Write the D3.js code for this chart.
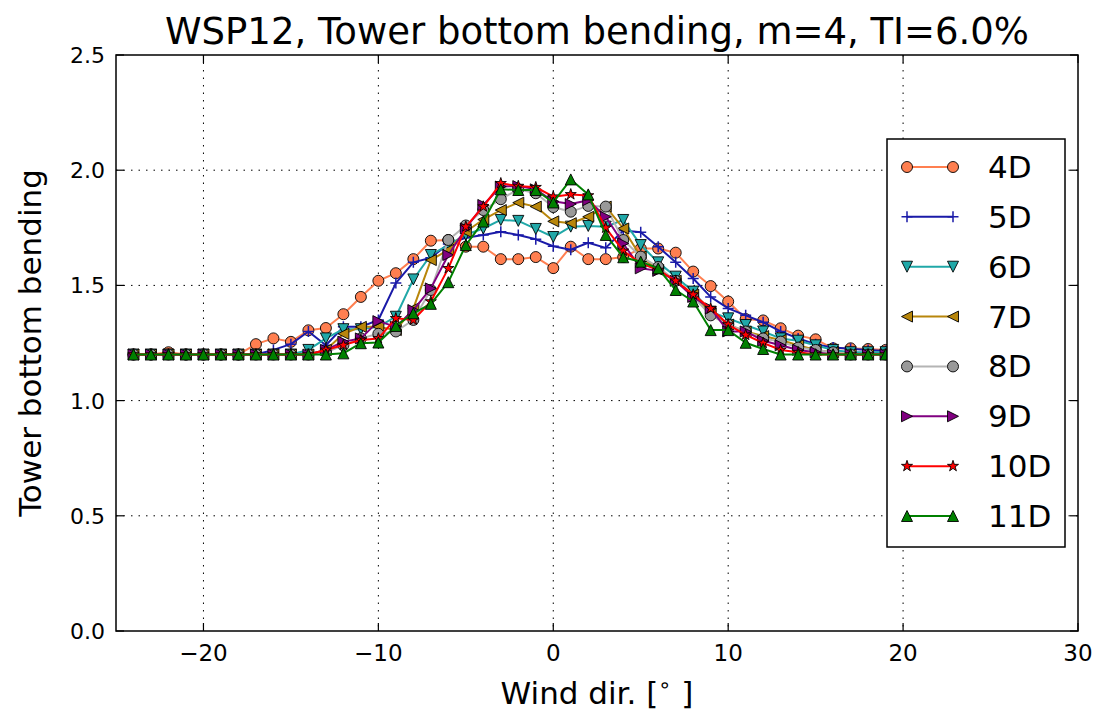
<!DOCTYPE html>
<html><head><meta charset="utf-8">
<script src="https://cdn.jsdelivr.net/npm/d3@7"></script>
<style>body{margin:0;background:#fff}svg{display:block}text{font-family:"DejaVu Sans",sans-serif;fill:#000}</style>
</head><body>
<svg id="c" width="1099" height="716"></svg>
<script>
const title = "WSP12, Tower bottom bending, m=4, TI=6.0%";
const xLabel = "Wind dir. [";
const yLabel = "Tower bottom bending";
const windDir = d3.range(-24, 25);
const xTicks = [-20, -10, 0, 10, 20, 30];
const yTicks = [0.0, 0.5, 1.0, 1.5, 2.0, 2.5];
const seriesNames = ["4D","5D","6D","7D","8D","9D","10D","11D"];

const s4D = [1.20,1.20,1.21,1.20,1.20,1.20,1.20,1.245,1.27,1.255,1.305,1.315,1.375,1.45,1.52,1.553,1.614,1.694,1.697,1.668,1.668,1.614,1.614,1.623,1.575,1.668,1.614,1.614,1.623,1.66,1.66,1.642,1.56,1.497,1.43,1.354,1.348,1.314,1.282,1.266,1.227,1.227,1.224,1.22,1.215,1.21,1.21,1.20,1.20];
const s5D = [1.20,1.20,1.20,1.20,1.20,1.20,1.20,1.20,1.22,1.245,1.30,1.24,1.32,1.32,1.35,1.51,1.60,1.62,1.68,1.707,1.719,1.733,1.719,1.70,1.67,1.655,1.685,1.663,1.738,1.731,1.668,1.60,1.53,1.45,1.40,1.37,1.34,1.30,1.27,1.245,1.23,1.225,1.22,1.215,1.21,1.21,1.205,1.20,1.20];
const s6D = [1.20,1.20,1.20,1.20,1.20,1.20,1.20,1.20,1.20,1.20,1.22,1.27,1.31,1.31,1.32,1.364,1.526,1.632,1.675,1.72,1.747,1.784,1.78,1.745,1.71,1.755,1.758,1.755,1.784,1.675,1.60,1.538,1.473,1.386,1.357,1.328,1.30,1.27,1.26,1.24,1.22,1.21,1.21,1.21,1.20,1.20,1.20,1.20,1.20];
const s7D = [1.20,1.20,1.20,1.20,1.20,1.20,1.20,1.20,1.20,1.20,1.20,1.22,1.29,1.32,1.32,1.306,1.40,1.61,1.654,1.733,1.786,1.827,1.859,1.842,1.778,1.77,1.798,1.842,1.747,1.625,1.567,1.52,1.46,1.38,1.33,1.30,1.28,1.263,1.24,1.22,1.21,1.20,1.20,1.20,1.20,1.20,1.20,1.20,1.20];
const s8D = [1.20,1.20,1.20,1.20,1.20,1.20,1.20,1.20,1.20,1.20,1.20,1.21,1.24,1.27,1.29,1.30,1.35,1.48,1.697,1.76,1.827,1.874,1.917,1.90,1.84,1.82,1.845,1.842,1.697,1.625,1.58,1.52,1.45,1.37,1.33,1.30,1.27,1.256,1.23,1.22,1.21,1.20,1.20,1.20,1.20,1.20,1.20,1.20,1.20];
const s9D = [1.20,1.20,1.20,1.20,1.20,1.20,1.20,1.20,1.20,1.20,1.20,1.22,1.256,1.27,1.345,1.32,1.393,1.487,1.632,1.747,1.849,1.929,1.931,1.917,1.865,1.853,1.87,1.798,1.682,1.574,1.563,1.52,1.45,1.40,1.30,1.30,1.26,1.24,1.22,1.21,1.20,1.20,1.20,1.20,1.20,1.20,1.20,1.20,1.20];
const s10D = [1.20,1.20,1.20,1.20,1.20,1.20,1.20,1.20,1.20,1.20,1.20,1.22,1.241,1.263,1.27,1.357,1.35,1.43,1.574,1.755,1.842,1.943,1.931,1.926,1.885,1.895,1.89,1.75,1.65,1.596,1.567,1.52,1.46,1.40,1.33,1.285,1.25,1.22,1.21,1.20,1.20,1.20,1.20,1.20,1.20,1.20,1.20,1.20,1.20];
const s11D = [1.20,1.20,1.20,1.20,1.20,1.20,1.20,1.20,1.20,1.20,1.20,1.20,1.205,1.249,1.252,1.324,1.379,1.42,1.514,1.675,1.777,1.917,1.914,1.914,1.86,1.96,1.895,1.719,1.622,1.603,1.574,1.48,1.43,1.306,1.306,1.251,1.224,1.20,1.20,1.20,1.20,1.20,1.20,1.20,1.20,1.20,1.20,1.20,1.20];

const seriesValues = [s4D,s5D,s6D,s7D,s8D,s9D,s10D,s11D];
const lineColors = ["#ff7f50","#1a1aa8","#20a8a8","#b8860b","#b4b4b4","#800080","#ff0000","#008000"];
const markerFills = ["#ff7f50","#1a1aa8","#20a8a8","#b8860b","#999999","#800080","#ff0000","#008000"];
const markerTypes = ["o","+","v","<","o",">","*","^"];

const svg = d3.select("#c");
const L = 116, R = 1078, T = 55, B = 631;
const x = d3.scaleLinear().domain([-25, 30]).range([L, R]);
const y = d3.scaleLinear().domain([0, 2.5]).range([B, T]);

// grid
const g = svg.append("g");
g.selectAll(".gx").data(xTicks.filter(t => t > -25 && t < 30)).enter().append("line")
  .attr("x1", d => x(d)).attr("x2", d => x(d)).attr("y1", T).attr("y2", B)
  .attr("stroke", "#000").attr("stroke-width", 1).attr("stroke-dasharray", "1.5,6");
g.selectAll(".gy").data(yTicks.filter(t => t > 0 && t < 2.5)).enter().append("line")
  .attr("y1", d => y(d)).attr("y2", d => y(d)).attr("x1", L).attr("x2", R)
  .attr("stroke", "#000").attr("stroke-width", 1).attr("stroke-dasharray", "1.5,6");

function markerPath(t) {
  const r = 5.5;
  switch (t) {
    case "^": return `M0,${-r}L${r},${r}L${-r},${r}Z`;
    case "v": return `M0,${r}L${r},${-r}L${-r},${-r}Z`;
    case "<": return `M${-r},0L${r},${-r}L${r},${r}Z`;
    case ">": return `M${r},0L${-r},${-r}L${-r},${r}Z`;
    case "+": return `M${-r},0L${r},0M0,${-r}L0,${r}`;
    case "*": return d3.symbol().type(d3.symbolStar).size(38)();
    default: return d3.symbol().type(d3.symbolCircle).size(Math.PI * r * r)();
  }
}
function drawMarker(sel, i) {
  const t = markerTypes[i];
  sel.append("path").attr("d", markerPath(t))
    .attr("fill", t === "+" ? "none" : markerFills[i])
    .attr("stroke", t === "+" ? lineColors[i] : "#000")
    .attr("stroke-width", t === "+" ? 1.5 : 0.9);
}

svg.append("clipPath").attr("id", "pc").append("rect")
  .attr("x", L).attr("y", T).attr("width", R - L).attr("height", B - T);
const plot = svg.append("g").attr("clip-path", "url(#pc)");
const line = d3.line().x((d, j) => x(windDir[j])).y(d => y(d));
seriesValues.forEach((vals, i) => {
  const sg = plot.append("g");
  sg.append("path").attr("d", line(vals)).attr("fill", "none")
    .attr("stroke", lineColors[i]).attr("stroke-width", 2).attr("stroke-linejoin", "round");
  vals.forEach((v, j) => {
    const m = sg.append("g").attr("transform", `translate(${x(windDir[j])},${y(v)})`);
    drawMarker(m, i);
  });
});

// frame and ticks
svg.append("rect").attr("x", L).attr("y", T).attr("width", R - L).attr("height", B - T)
  .attr("fill", "none").attr("stroke", "#000").attr("stroke-width", 1.5);
const tk = svg.append("g").attr("stroke", "#000").attr("stroke-width", 1.2);
xTicks.forEach(t => {
  tk.append("line").attr("x1", x(t)).attr("x2", x(t)).attr("y1", B).attr("y2", B - 8);
  tk.append("line").attr("x1", x(t)).attr("x2", x(t)).attr("y1", T).attr("y2", T + 8);
});
yTicks.forEach(t => {
  tk.append("line").attr("y1", y(t)).attr("y2", y(t)).attr("x1", L).attr("x2", L + 8);
  tk.append("line").attr("y1", y(t)).attr("y2", y(t)).attr("x1", R).attr("x2", R - 8);
});
const fmtX = d => (d < 0 ? "\u2212" + Math.abs(d) : String(d));
svg.append("g").selectAll("text").data(xTicks).enter().append("text")
  .attr("x", d => x(d)).attr("y", B + 30).attr("text-anchor", "middle")
  .style("font-size", "23px").text(fmtX);
svg.append("g").selectAll("text").data(yTicks).enter().append("text")
  .attr("x", L - 11).attr("y", d => y(d) + 8).attr("text-anchor", "end")
  .style("font-size", "22px").text(d => d.toFixed(1));

// title and labels
svg.append("text").attr("x", 597).attr("y", 44).attr("text-anchor", "middle")
  .style("font-size", "37px").text(title);
const xl = svg.append("text").attr("x", 597).attr("y", 704).attr("text-anchor", "middle")
  .style("font-size", "31px");
xl.append("tspan").text(xLabel);
xl.append("tspan").attr("dy", -12).style("font-size", "21px").text("\u2218");
xl.append("tspan").attr("dy", 12).text(" ]");
svg.append("text").attr("transform", `translate(41,${(T + B) / 2}) rotate(-90)`)
  .attr("text-anchor", "middle").style("font-size", "31px").text(yLabel);

// legend
const lg = svg.append("g");
lg.append("rect").attr("x", 887).attr("y", 139).attr("width", 178).attr("height", 408)
  .attr("fill", "#fff").attr("stroke", "#000").attr("stroke-width", 1.5);
const legY = d3.scalePoint().domain(seriesNames).range([167, 516]);
seriesNames.forEach((n, i) => {
  const yy = legY(n);
  lg.append("line").attr("x1", 907).attr("x2", 953).attr("y1", yy).attr("y2", yy)
    .attr("stroke", lineColors[i]).attr("stroke-width", 2);
  [907, 953].forEach(xx => {
    const m = lg.append("g").attr("transform", `translate(${xx},${yy})`);
    drawMarker(m, i);
  });
  lg.append("text").attr("x", 988).attr("y", yy + 11).style("font-size", "31px").text(n);
});
</script>
</body></html>
